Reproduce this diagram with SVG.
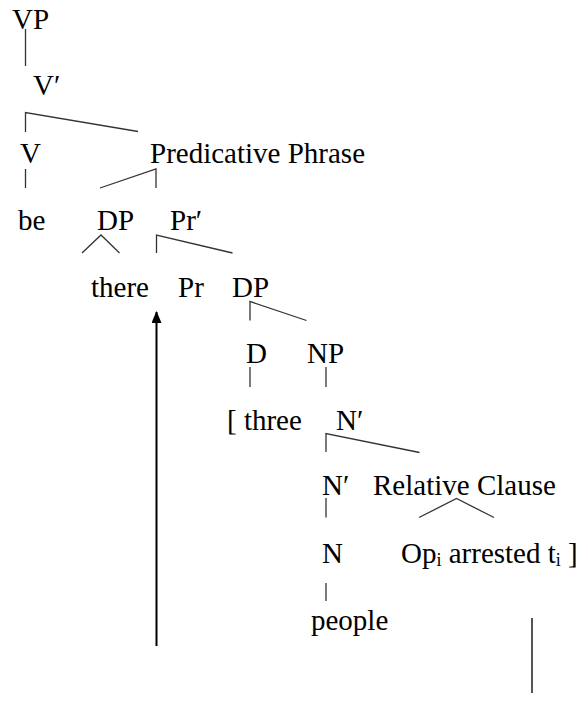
<svg xmlns="http://www.w3.org/2000/svg" width="577" height="702" viewBox="0 0 577 702">
<style>
text{font-family:"Liberation Serif","Times New Roman","DejaVu Serif",serif;font-size:29px;fill:#000}
.e{stroke:#333;stroke-width:1.3;fill:none}
.sub{font-size:18px}
</style>
<defs>
<marker id="ah" viewBox="0 0 12 10" refX="11" refY="5" markerWidth="12" markerHeight="10" markerUnits="userSpaceOnUse" orient="auto">
<path d="M0,0 L12,5 L0,10 Z" fill="#000"/>
</marker>
</defs>
<rect width="577" height="702" fill="#fff"/>
<g id="connectors">
<path class="e" d="M25.5,29 V66"/>
<path class="e" d="M25.5,132 V112.5 L138,131.5"/>
<path class="e" d="M25.5,169 V188"/>
<path class="e" d="M100,188 L156,169 V188"/>
<path class="e" d="M82,253 L101,235 L119.5,253"/>
<path class="e" d="M156.5,253 V235 L232.5,253"/>
<path class="e" d="M250,320.5 V301.5 L306.5,320.5"/>
<path class="e" d="M250,367 V387"/>
<path class="e" d="M326,367 V387"/>
<path class="e" d="M326,452 V433.5 L419.5,452.5"/>
<path class="e" d="M326,498 V517.5"/>
<path class="e" d="M419,517.5 L456.5,498.5 L494,517.5"/>
<path class="e" d="M326,583 V601"/>
<path d="M156.5,646 V312" stroke="#000" stroke-width="2" fill="none" marker-end="url(#ah)"/>
<path d="M532,618 V693" stroke="#555" stroke-width="2"/>
</g>
<g id="n-VP"><text x="12" y="29">VP</text></g>
<g id="n-Vbar"><text x="33" y="95">V′</text></g>
<g id="n-V"><text x="20" y="163">V</text></g>
<g id="n-PredP"><text x="150" y="163">Predicative Phrase</text></g>
<g id="n-be"><text x="18" y="230">be</text></g>
<g id="n-DP1"><text x="97" y="230">DP</text></g>
<g id="n-Prbar"><text x="170" y="230">Pr′</text></g>
<g id="n-there"><text x="91" y="297">there</text></g>
<g id="n-Pr"><text x="178" y="297">Pr</text></g>
<g id="n-DP2"><text x="232" y="297">DP</text></g>
<g id="n-D"><text x="246" y="363">D</text></g>
<g id="n-NP"><text x="307" y="363">NP</text></g>
<g id="n-three"><text x="227" y="430">[ three</text></g>
<g id="n-Nbar1"><text x="336" y="430">N′</text></g>
<g id="n-Nbar2"><text x="322" y="495">N′</text></g>
<g id="n-RC"><text x="373" y="495">Relative Clause</text></g>
<g id="n-N"><text x="322" y="563">N</text></g>
<g id="n-Op"><text x="401" y="563">Op<tspan class="sub" dy="3">i</tspan><tspan dy="-3"> arrested t</tspan><tspan class="sub" dy="3">i</tspan><tspan dy="-3"> ]</tspan></text></g>
<g id="n-people"><text x="311" y="630">people</text></g>
</svg>
